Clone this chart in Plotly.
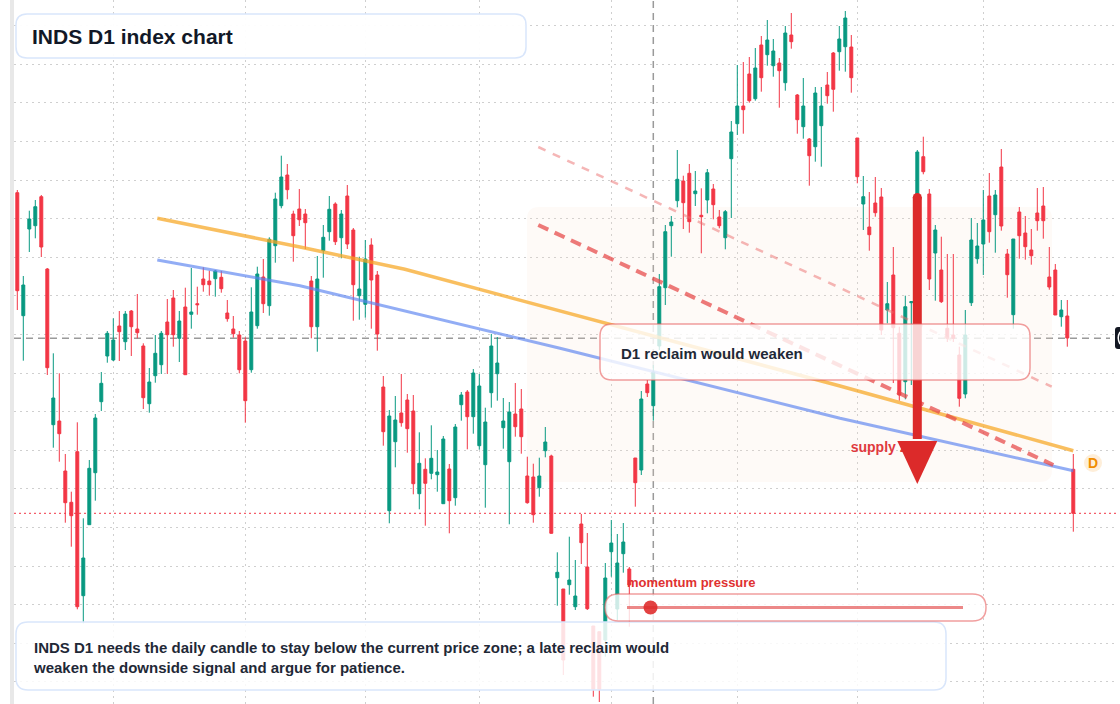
import plotly.graph_objects as go

# ---------------- data ----------------
# daily candles, index 0..176 (one per trading day)
OPEN = [1807.3, 1684.3, 1771, 1774.3, 1803.3, 1731, 1575.3, 1579, 1529, 1497.7,
        1548.3, 1404.3, 1475.3, 1527.3, 1598.3, 1644, 1640, 1674, 1658.3, 1689,
        1671, 1654, 1596.3, 1624.3, 1635.3, 1678, 1702, 1661.7, 1693, 1685.7,
        1696.3, 1721, 1719, 1721.3, 1722.7, 1687, 1671, 1665, 1659, 1630.3,
        1674.3, 1723, 1694.3, 1754.3, 1794.3, 1825, 1786, 1791, 1786, 1719,
        1673.3, 1749.3, 1768.3, 1796, 1762.3, 1804, 1770, 1704.3, 1695.7, 1755,
        1725, 1613, 1489.3, 1558.3, 1587, 1600, 1589, 1506.3, 1530.7, 1526.7,
        1525.3, 1496.3, 1531, 1502.3, 1595.3, 1608, 1583.3, 1554.3, 1535.3, 1607.3,
        1626.3, 1572.3, 1538.3, 1586, 1591, 1524, 1523, 1512.3, 1549.3, 1544,
        1422.3, 1411, 1415.3, 1393.3, 1476, 1433, 1374, 1368.3, 1360, 1448.3,
        1391, 1446.3, 1431, 1542, 1530, 1616, 1594.3, 1654, 1712.3, 1774.3,
        1799.3, 1819, 1826.7, 1806.3, 1784.7, 1800, 1811, 1783, 1762.3, 1841.3,
        1876.3, 1894, 1926, 1901.3, 1955, 1945.3, 1934.3, 1937, 1917.3, 1965,
        1905, 1873.3, 1861, 1853.3, 1874.3, 1915, 1947, 1948.3, 1953.3, 1953,
        1862, 1796, 1773, 1797, 1803, 1690, 1725, 1666.7, 1618.3, 1697.3,
        1740, 1843.3, 1806, 1747, 1730, 1671.7, 1665, 1645, 1606, 1697.3,
        1741.3, 1756, 1804, 1785.3, 1833, 1746, 1685.3, 1788, 1767, 1750,
        1787, 1794, 1723, 1730, 1683.3, 1684, 1530.7]
HIGH = [1810, 1724, 1789.3, 1800, 1805, 1732, 1646.7, 1626.7, 1546, 1508.3,
        1577.7, 1481.7, 1540, 1586, 1628, 1669, 1681.7, 1689, 1689, 1690,
        1706, 1656.7, 1632, 1665, 1669, 1701, 1710, 1689, 1712.3, 1732,
        1713.3, 1732.7, 1729.3, 1730, 1729, 1700, 1684, 1669, 1662.7, 1712.7,
        1733.3, 1741, 1762.7, 1807.3, 1844.3, 1836, 1789.3, 1811, 1791, 1724,
        1744, 1775, 1804, 1797.7, 1790, 1815, 1772, 1743.3, 1760, 1761.7,
        1729, 1624, 1590, 1604, 1626, 1606, 1605, 1567.7, 1541.7, 1574.7,
        1550, 1564, 1536, 1576, 1608, 1610, 1631, 1626, 1592.3, 1666,
        1663, 1602, 1598, 1617, 1611, 1543.3, 1536.3, 1542.3, 1573, 1545.3,
        1447.7, 1411, 1463.3, 1440, 1486, 1467, 1374, 1368.3, 1437, 1480,
        1466, 1477, 1433, 1542, 1609, 1620, 1635, 1726, 1775, 1784,
        1850, 1824.3, 1836, 1829, 1811.7, 1831, 1816, 1790, 1790, 1879,
        1935, 1938, 1943, 1952, 1964, 1980, 1961, 1942, 1974, 1987,
        1906, 1922, 1862, 1913, 1913, 1928, 1948, 1974, 1989, 1965,
        1862, 1824, 1808, 1823, 1812, 1718, 1753, 1673.3, 1704.3, 1699,
        1850, 1863.3, 1811, 1775, 1763.3, 1746, 1746, 1653.3, 1690, 1782,
        1777, 1810, 1827, 1810, 1851, 1751, 1761, 1793, 1784, 1771,
        1812, 1813, 1753, 1736, 1700, 1700, 1546]
LOW = [1690, 1639.3, 1748, 1761.7, 1743, 1625, 1552.3, 1538.3, 1477.3, 1453.3,
       1390.7, 1376.7, 1475, 1499.3, 1589, 1637.3, 1639, 1639, 1650, 1644,
       1661.7, 1591, 1587.3, 1617.3, 1626, 1626, 1653.3, 1638, 1625.3, 1671.3,
       1685.3, 1708.3, 1704.3, 1703.3, 1707.3, 1678.3, 1662.3, 1626.7, 1577.3, 1627.3,
       1671.3, 1687, 1684.3, 1737.3, 1791.7, 1800.7, 1738.3, 1774, 1751, 1661.7,
       1648.3, 1722.3, 1759.3, 1755, 1741.7, 1751, 1679.3, 1680.3, 1682.3, 1671.3,
       1649.3, 1554.3, 1476.7, 1532.7, 1573.3, 1547.3, 1505.7, 1490.7, 1474.3, 1520.7,
       1508.3, 1496, 1466.7, 1494.3, 1579.3, 1550.7, 1566.3, 1550.3, 1492.3, 1592.3,
       1599.3, 1551.3, 1475.7, 1563.3, 1546.3, 1496.3, 1477.3, 1503.3, 1542.7, 1466.3,
       1394.3, 1325, 1405.3, 1390, 1436, 1390, 1303.3, 1298, 1343.3, 1423.3,
       1380, 1427.3, 1373.3, 1493.3, 1525, 1603, 1579.3, 1650, 1695, 1743.3,
       1792.7, 1771, 1767.3, 1794, 1746.7, 1786.7, 1780.7, 1771.7, 1750.7, 1782,
       1865, 1866.3, 1897.3, 1899.3, 1908.3, 1934.3, 1923.3, 1892.3, 1909.3, 1951.3,
       1866.3, 1861.3, 1814.3, 1838.3, 1833.3, 1896.3, 1888.3, 1929.3, 1928.3, 1907.3,
       1816.7, 1770, 1749.3, 1783.3, 1665, 1676.7, 1617, 1599.3, 1600.7, 1615,
       1730, 1825.7, 1710, 1699.3, 1697, 1658, 1658, 1593.3, 1601.7, 1694,
       1736.3, 1725, 1757.3, 1747.3, 1769.3, 1702.3, 1671.3, 1741.3, 1740.3, 1735.3,
       1769.3, 1761.3, 1710.3, 1685, 1673.3, 1653.3, 1468.3]
CLOSE = [1709.3, 1715, 1781, 1793.3, 1753, 1632.3, 1602, 1566.3, 1497.3, 1484.3,
         1393.3, 1442, 1531.7, 1582, 1616.7, 1666.7, 1660, 1668.3, 1686, 1673.3,
         1667.3, 1602.3, 1618, 1646.7, 1666.7, 1665.3, 1665.3, 1679, 1625.3, 1688,
         1695.3, 1715.3, 1715.3, 1729, 1711.3, 1681.3, 1666.3, 1630.3, 1599.3, 1688,
         1726, 1696.3, 1760.7, 1801, 1823, 1810.3, 1764.3, 1780.3, 1777.3, 1673.3,
         1721, 1762.7, 1790.7, 1758.3, 1786, 1756, 1715.3, 1711, 1741, 1720,
         1666, 1568.3, 1584, 1580, 1577.3, 1571.3, 1516.3, 1536.7, 1516.7, 1541.7,
         1528, 1561, 1499.3, 1573, 1605, 1583.3, 1627, 1614, 1578, 1654,
         1637, 1579, 1588, 1573.3, 1563.3, 1497.3, 1485.3, 1524, 1558, 1466.7,
         1427.7, 1340, 1420, 1404, 1457.3, 1391.3, 1310.7, 1310.7, 1422, 1457,
         1437, 1458, 1415, 1517.3, 1601, 1607.3, 1628, 1713.3, 1768.3, 1778,
         1820.7, 1797.3, 1778.3, 1809, 1783.3, 1827.3, 1795.3, 1774.3, 1788.3, 1868,
         1894, 1890.3, 1899.3, 1932, 1922.3, 1960, 1949, 1929.3, 1967, 1958.3,
         1880.3, 1894, 1844.3, 1907, 1894, 1904.3, 1910.7, 1961, 1982, 1922.3,
         1823.3, 1803.3, 1765.3, 1787.3, 1670, 1696.3, 1672.3, 1605, 1693.3, 1698.3,
         1848, 1828.3, 1721, 1770, 1698.3, 1661.7, 1661.7, 1601.7, 1665, 1760,
         1754, 1780, 1768.3, 1805, 1774, 1725.3, 1761, 1764.3, 1753.3, 1744.3,
         1779.3, 1779.3, 1713, 1685, 1690, 1662, 1486.7]
DAY_INDEX = list(range(len(CLOSE)))

# month-start sessions (vertical grid) and price grid
MONTH_START_INDEX = [16, 38, 58, 77, 99, 120, 140, 161, 183]
PRICE_GRID_ANCHOR = 1974.3
PRICE_GRID_STEP = 38.6
PRICE_RANGE = [1296, 2000]
INDEX_RANGE = [-0.55, 183.117]

# crosshair and price references
CROSSHAIR_INDEX = 106
CROSSHAIR_PRICE = 1661.7
LAST_CLOSE = CLOSE[-1]

# trend lines (anchor points)
ORANGE_X = [23.33, 47.12, 64.6, 90.45, 137.12, 176]
ORANGE_Y = [1781.7, 1753.0, 1730.7, 1689.3, 1614.0, 1549.3]
BLUE_X = [23.33, 47.12, 90.45, 124.9, 137.12, 176]
BLUE_Y = [1740.0, 1714.3, 1651.7, 1600.0, 1581.7, 1529.3]
RED_DASH_X = [86.83, 172.67]
RED_DASH_Y = [1775.0, 1535.0]
PINK_DASH_X = [86.83, 172.4]
PINK_DASH_Y = [1853.0, 1613.3]

# supply zone and down arrow
ZONE_X = [84.95, 172.45]
ZONE_Y = [1518.0, 1793.0]
ZONE_LABEL = "supply zone"
ZONE_LABEL_AT = (138.9, 1552.0)
ARROW_INDEX = 150
ARROW_FROM = 1807.0
ARROW_TO = 1516.0

TITLE = "INDS D1 index chart"
NOTE = ("INDS D1 needs the daily candle to stay below the current price zone; a late reclaim would"
        "<br>weaken the downside signal and argue for patience.")
CALLOUT = "D1 reclaim would weaken"
GAUGE_LABEL = "momentum pressure"
GAUGE_VALUE = 0.07  # position of the marker along the gauge (0..1)

# ---------------- geometry helpers ----------------
FW, FH = 1120, 704
ML, MR, MT, MB = 14, 4, 0, 0
PW, PH = FW - ML - MR, FH - MT - MB


def pxx(x):
    return (x - ML) / PW


def pyy(y):
    return 1 - (y - MT) / PH


def rrect(xl, xr, yb, yt, rx, ry):
    return (f"M{xl+rx},{yt} L{xr-rx},{yt} Q{xr},{yt} {xr},{yt-ry} "
            f"L{xr},{yb+ry} Q{xr},{yb} {xr-rx},{yb} L{xl+rx},{yb} "
            f"Q{xl},{yb} {xl},{yb+ry} L{xl},{yt-ry} Q{xl},{yt} {xl+rx},{yt} Z")


def paper_rrect(x0, y0, x1, y1, r):
    return rrect(pxx(x0), pxx(x1), pyy(y1), pyy(y0), r / PW, r / PH)


FONT = "Liberation Sans, Arial, Helvetica, sans-serif"

fig = go.Figure()

fig.add_trace(go.Candlestick(
    x=DAY_INDEX, open=OPEN, high=HIGH, low=LOW, close=CLOSE,
    increasing=dict(line=dict(color="#089981", width=1), fillcolor="#089981"),
    decreasing=dict(line=dict(color="#f23645", width=1), fillcolor="#f23645"),
    whiskerwidth=0, hoverinfo="skip", showlegend=False))

fig.add_trace(go.Scatter(x=ORANGE_X, y=ORANGE_Y, mode="lines",
                         line=dict(color="rgba(246,166,35,0.72)", width=3.5),
                         hoverinfo="skip", showlegend=False))
fig.add_trace(go.Scatter(x=BLUE_X, y=BLUE_Y, mode="lines",
                         line=dict(color="rgba(90,130,240,0.66)", width=3),
                         hoverinfo="skip", showlegend=False))
fig.add_trace(go.Scatter(x=PINK_DASH_X, y=PINK_DASH_Y, mode="lines",
                         line=dict(color="rgba(236,110,110,0.5)", width=2.5, dash="8px,8px"),
                         hoverinfo="skip", showlegend=False))
fig.add_trace(go.Scatter(x=RED_DASH_X, y=RED_DASH_Y, mode="lines",
                         line=dict(color="rgba(230,70,70,0.72)", width=4, dash="11px,7px"),
                         hoverinfo="skip", showlegend=False))
fig.add_trace(go.Scatter(x=[ZONE_LABEL_AT[0]], y=[ZONE_LABEL_AT[1]], mode="text",
                         text=[f"<b>{ZONE_LABEL}</b>"], textposition="middle right",
                         textfont=dict(family=FONT, size=14, color="#e0393e"),
                         hoverinfo="skip", showlegend=False))

shapes = []
# between-layer: zone, crosshair, last price
shapes.append(dict(type="path", xref="x", yref="y", layer="between",
                   path=rrect(ZONE_X[0], ZONE_X[1], ZONE_Y[0], ZONE_Y[1], 2, 12),
                   fillcolor="rgba(250,225,205,0.16)", line=dict(width=0)))
shapes.append(dict(type="line", xref="x", yref="paper", layer="between",
                   x0=CROSSHAIR_INDEX, x1=CROSSHAIR_INDEX, y0=0, y1=1,
                   line=dict(color="#9a9a9a", width=1.5, dash="7px,5px")))
shapes.append(dict(type="line", xref="paper", yref="y", layer="between",
                   x0=0, x1=pxx(1110), y0=CROSSHAIR_PRICE, y1=CROSSHAIR_PRICE,
                   line=dict(color="#9a9a9a", width=1.5, dash="7px,5px")))
shapes.append(dict(type="line", xref="paper", yref="y", layer="between",
                   x0=0, x1=1, y0=LAST_CLOSE, y1=LAST_CLOSE,
                   line=dict(color="#f23645", width=1, dash="2px,3px")))

# left border strip
shapes.append(dict(type="rect", xref="paper", yref="paper", layer="above",
                   x0=pxx(10), x1=pxx(14), y0=0, y1=1,
                   fillcolor="#e8e8e8", line=dict(width=0)))

# crosshair price tag on the (clipped) right price scale
shapes.append(dict(type="path", xref="paper", yref="paper", layer="above",
                   path=paper_rrect(1115, 327, 1135, 349, 3),
                   fillcolor="#131722", line=dict(width=0)))
shapes.append(dict(type="path", xref="paper", yref="paper", layer="above",
                   path=(f"M{pxx(1120)},{pyy(332)} Q{pxx(1116.5)},{pyy(338)} {pxx(1120)},{pyy(344)}"),
                   line=dict(color="#ffffff", width=1.5)))

# title and note boxes
shapes.append(dict(type="path", xref="paper", yref="paper", layer="above",
                   path=paper_rrect(16, 14, 526, 58, 11),
                   fillcolor="rgba(255,255,255,0.95)",
                   line=dict(color="#d9e6fb", width=1.5)))
shapes.append(dict(type="path", xref="paper", yref="paper", layer="above",
                   path=paper_rrect(16, 622, 946, 690, 12),
                   fillcolor="rgba(255,255,255,0.85)",
                   line=dict(color="#d9e6fb", width=1.5)))

# down arrow
arrow_col = "#dc2a2a"
shapes.append(dict(type="line", xref="x", yref="y", layer="above",
                   x0=ARROW_INDEX, x1=ARROW_INDEX, y0=ARROW_FROM - 4, y1=ARROW_TO + 45,
                   line=dict(color=arrow_col, width=9)))
shapes.append(dict(type="circle", xref="x", yref="y", layer="above",
                   x0=ARROW_INDEX - 0.75, x1=ARROW_INDEX + 0.75,
                   y0=ARROW_FROM - 9, y1=ARROW_FROM,
                   fillcolor=arrow_col, line=dict(width=0)))
shapes.append(dict(type="path", xref="x", yref="y", layer="above",
                   path=(f"M{ARROW_INDEX - 3.33},{ARROW_TO + 43} L{ARROW_INDEX + 3.33},{ARROW_TO + 43} "
                         f"L{ARROW_INDEX},{ARROW_TO} Z"),
                   fillcolor=arrow_col, line=dict(width=0)))

# callout box
shapes.append(dict(type="path", xref="paper", yref="paper", layer="above",
                   path=paper_rrect(600, 324, 1030, 380, 12),
                   fillcolor="rgba(255,255,255,0.8)",
                   line=dict(color="rgba(232,95,95,0.6)", width=1.5)))

# momentum gauge
g_x0, g_x1, g_y = 627, 963, 607.5
shapes.append(dict(type="path", xref="paper", yref="paper", layer="above",
                   path=paper_rrect(605, 594, 986, 621, 13.5),
                   fillcolor="rgba(255,255,255,0.8)",
                   line=dict(color="rgba(232,95,95,0.6)", width=1.5)))
shapes.append(dict(type="line", xref="paper", yref="paper", layer="above",
                   x0=pxx(g_x0), x1=pxx(g_x1), y0=pyy(g_y), y1=pyy(g_y),
                   line=dict(color="rgba(228,85,85,0.7)", width=3)))
gx = g_x0 + GAUGE_VALUE * (g_x1 - g_x0)
shapes.append(dict(type="circle", xref="paper", yref="paper", layer="above",
                   x0=pxx(gx - 7), x1=pxx(gx + 7), y0=pyy(g_y + 7), y1=pyy(g_y - 7),
                   fillcolor="rgba(222,40,40,0.88)", line=dict(width=0)))

# D badge
shapes.append(dict(type="circle", xref="paper", yref="paper", layer="above",
                   x0=pxx(1084), x1=pxx(1102), y0=pyy(472), y1=pyy(454),
                   fillcolor="rgba(253,200,130,0.3)", line=dict(width=0)))

annotations = [
    dict(x=pxx(30), y=pyy(36), xref="paper", yref="paper", xanchor="left", yanchor="middle",
         text=f"<b>{TITLE}</b>", showarrow=False,
         font=dict(family=FONT, size=21, color="#111827")),
    dict(x=pxx(30.5), y=pyy(657), xref="paper", yref="paper", xanchor="left", yanchor="middle",
         text=f"<b>{NOTE}</b>", showarrow=False, align="left",
         font=dict(family=FONT, size=15, color="#1f2937")),
    dict(x=pxx(619), y=pyy(353), xref="paper", yref="paper", xanchor="left", yanchor="middle",
         text=f"<b>{CALLOUT}</b>", showarrow=False,
         font=dict(family=FONT, size=15, color="#1f2937")),
    dict(x=pxx(625), y=pyy(582), xref="paper", yref="paper", xanchor="left", yanchor="middle",
         text=f"<b>{GAUGE_LABEL}</b>", showarrow=False,
         font=dict(family=FONT, size=13, color="#e03131")),
    dict(x=pxx(1093), y=pyy(463), xref="paper", yref="paper", xanchor="center", yanchor="middle",
         text="<b>D</b>", showarrow=False,
         font=dict(family=FONT, size=14, color="#f08c00")),
]

fig.update_layout(
    width=FW, height=FH,
    margin=dict(l=ML, r=MR, t=MT, b=MB, pad=0),
    paper_bgcolor="#ffffff", plot_bgcolor="#ffffff",
    showlegend=False, hovermode=False,
    shapes=shapes, annotations=annotations,
    xaxis=dict(range=INDEX_RANGE, tickmode="array", tickvals=MONTH_START_INDEX,
               showticklabels=False, ticks="", showgrid=True, gridcolor="#cfcfcf",
               griddash="2px,4px", gridwidth=1, zeroline=False, showline=False,
               rangeslider=dict(visible=False), fixedrange=True),
    yaxis=dict(range=PRICE_RANGE, tickmode="linear", tick0=PRICE_GRID_ANCHOR,
               dtick=PRICE_GRID_STEP, showticklabels=False, ticks="", showgrid=True,
               gridcolor="#cfcfcf", griddash="2px,4px", gridwidth=1, zeroline=False,
               showline=False, fixedrange=True),
)

fig.write_html("out.html", config={"displayModeBar": False})
